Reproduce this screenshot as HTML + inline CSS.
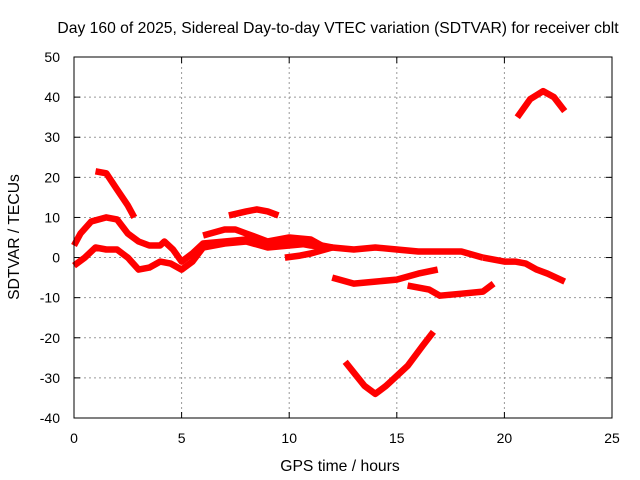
<!DOCTYPE html>
<html><head><meta charset="utf-8"><style>body{margin:0;background:#fff}svg{display:block}text{font-family:"Liberation Sans",sans-serif;font-size:14px;fill:#000}.lab{font-size:15.7px}</style></head>
<body>
<svg id="chart" width="640" height="480" viewBox="0 0 640 480">
<text class="lab" x="338" y="33" text-anchor="middle">Day 160 of 2025, Sidereal Day-to-day VTEC variation (SDTVAR) for receiver cblt</text>
<text class="lab" x="340" y="471" text-anchor="middle">GPS time / hours</text>
<text class="lab" transform="translate(19,237) rotate(-90)" text-anchor="middle">SDTVAR / TECUs</text>
<g id="grid"></g><g id="axes"></g><g id="series"></g>
<rect x="74" y="57" width="538" height="361" fill="none" stroke="#000" stroke-width="1"/>
</svg>
<script>
const xTicks=[0,5,10,15,20,25];
const yTicks=[-40,-30,-20,-10,0,10,20,30,40,50];
const arcA_t=[0,0.3,0.8,1.5,2,2.5,3,3.5,4,4.2,4.6,5,5.5,6,7,8,9,10,11,12,13,14,15,16,17,18,19];
const arcA_v=[3,6,9,10,9.5,6,4,3,3,4,2,-1,1,3.5,4,4.5,3.5,4,3,2.5,2,2.5,2,1.5,1.5,1.5,0];
const arcB_t=[0,0.5,1,1.5,2,2.5,3,3.5,4,4.5,5,5.5,6,7,8,9,10,11,12];
const arcB_v=[-2,0,2.5,2,2,0,-3,-2.5,-1,-1.5,-3,-1,2.5,3.5,4,2.5,3,3.5,2.5];
const arcC_t=[1,1.5,2,2.5,2.8];
const arcC_v=[21.5,21,17,13,10];
const arcD_t=[7.2,8,8.5,9,9.5];
const arcD_v=[10.5,11.5,12,11.5,10.5];
const arcE_t=[6,7,7.5,8,9,10,11,11.5];
const arcE_v=[5.5,7,7,6,4,5,4.5,3];
const arcF_t=[9.8,10.5,11,12];
const arcF_v=[0,0.5,1,2.5];
const arcG_t=[12,13,14,15,16,16.9];
const arcG_v=[-5,-6.5,-6,-5.5,-4,-3];
const arcH_t=[15.5,16.5,17,18,19,19.5];
const arcH_v=[-7,-8,-9.5,-9,-8.5,-6.5];
const arcI_t=[12.6,13.5,14,14.5,15.5,16.2,16.7];
const arcI_v=[-26,-32,-34,-32,-27,-22,-18.5];
const arcJ_t=[20.6,21.2,21.8,22.3,22.8];
const arcJ_v=[35,39.5,41.5,40,36.5];
const arcK_t=[19,20,20.5,21,21.5,22,22.8];
const arcK_v=[0,-1,-1,-1.5,-3,-4,-6];
const seriesT=[arcA_t,arcB_t,arcC_t,arcD_t,arcE_t,arcF_t,arcG_t,arcH_t,arcI_t,arcJ_t,arcK_t];
const seriesV=[arcA_v,arcB_v,arcC_v,arcD_v,arcE_v,arcF_v,arcG_v,arcH_v,arcI_v,arcJ_v,arcK_v];
const X=t=>74+t*538/25, Y=v=>418-(v+40)*361/90;
const NS='http://www.w3.org/2000/svg';
const g=document.getElementById('grid'),ax=document.getElementById('axes'),sg=document.getElementById('series');
function mk(tag,at,p){const e=document.createElementNS(NS,tag);for(const k in at)e.setAttribute(k,at[k]);p.appendChild(e);return e;}
xTicks.forEach(t=>{
 if(t>0&&t<25){const l=mk('line',{x1:X(t),x2:X(t),y1:57,y2:418,stroke:'#999','stroke-dasharray':'2,3'},g);
 
 }
 const tx=mk('text',{x:X(t),y:443,'text-anchor':'middle'},ax);tx.textContent=t;
 
 
 mk('line',{x1:X(t),x2:X(t),y1:418,y2:412,stroke:'#000'},ax);mk('line',{x1:X(t),x2:X(t),y1:57,y2:63,stroke:'#000'},ax);
});
yTicks.forEach(v=>{
 if(v>-40&&v<50){const l=mk('line',{x1:74,x2:612,y1:Y(v),y2:Y(v),stroke:'#999','stroke-dasharray':'2,3'},g);
 
 }
 const tx=mk('text',{x:60,y:Y(v)+5,'text-anchor':'end'},ax);tx.textContent=v;
 
 
 mk('line',{x1:74,x2:80,y1:Y(v),y2:Y(v),stroke:'#000'},ax);mk('line',{x1:612,x2:606,y1:Y(v),y2:Y(v),stroke:'#000'},ax);
});
seriesT.forEach((ts,i)=>{
 const vs=seriesV[i];
 const pts=ts.map((t,j)=>X(t).toFixed(1)+','+Y(vs[j]).toFixed(1)).join(' ');
 const p=mk('polyline',{points:pts,fill:'none',stroke:'#ff0000','stroke-width':6.5,'stroke-linejoin':'round','stroke-linecap':'butt'},sg);
 
 
});
</script>
</body></html>
